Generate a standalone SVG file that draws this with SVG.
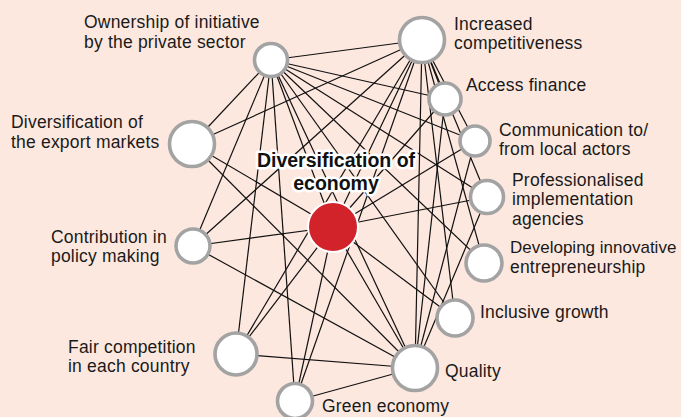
<svg xmlns="http://www.w3.org/2000/svg" width="681" height="417" viewBox="0 0 681 417">
<style>
.e line{stroke:#111;stroke-width:1.2}
.n circle{fill:#fff;stroke:#a3a3a3;stroke-width:3.6}
.t{font-family:"Liberation Sans",Arial,sans-serif;font-size:17.5px;fill:#1a1a1a;letter-spacing:0.2px}
.ct{font-family:"Liberation Sans",Arial,sans-serif;font-size:19.5px;font-weight:bold;fill:#111;stroke:#fff;stroke-width:5;stroke-linejoin:round;paint-order:stroke}
</style>
<rect width="681" height="417" fill="#fde8df"/>
<g id="connectors" class="e">
<line x1="271" y1="60" x2="422" y2="40"/>
<line x1="271" y1="60" x2="333" y2="227"/>
<line x1="271" y1="60" x2="415" y2="368"/>
<line x1="422" y1="40" x2="333" y2="227"/>
<line x1="422" y1="40" x2="415" y2="368"/>
<line x1="333" y1="227" x2="415" y2="368"/>
<line x1="192" y1="144" x2="271" y2="60"/>
<line x1="192" y1="144" x2="422" y2="40"/>
<line x1="192" y1="144" x2="333" y2="227"/>
<line x1="192" y1="144" x2="415" y2="368"/>
<line x1="193" y1="246" x2="271" y2="60"/>
<line x1="193" y1="246" x2="422" y2="40"/>
<line x1="193" y1="246" x2="333" y2="227"/>
<line x1="193" y1="246" x2="415" y2="368"/>
<line x1="236" y1="354" x2="271" y2="60"/>
<line x1="236" y1="354" x2="422" y2="40"/>
<line x1="236" y1="354" x2="333" y2="227"/>
<line x1="236" y1="354" x2="415" y2="368"/>
<line x1="295" y1="401" x2="271" y2="60"/>
<line x1="295" y1="401" x2="422" y2="40"/>
<line x1="295" y1="401" x2="333" y2="227"/>
<line x1="295" y1="401" x2="415" y2="368"/>
<line x1="445" y1="99" x2="271" y2="60"/>
<line x1="445" y1="99" x2="422" y2="40"/>
<line x1="445" y1="99" x2="333" y2="227"/>
<line x1="445" y1="99" x2="415" y2="368"/>
<line x1="475" y1="141" x2="271" y2="60"/>
<line x1="475" y1="141" x2="422" y2="40"/>
<line x1="475" y1="141" x2="333" y2="227"/>
<line x1="475" y1="141" x2="415" y2="368"/>
<line x1="487" y1="197" x2="271" y2="60"/>
<line x1="487" y1="197" x2="422" y2="40"/>
<line x1="487" y1="197" x2="333" y2="227"/>
<line x1="487" y1="197" x2="415" y2="368"/>
<line x1="484" y1="263" x2="271" y2="60"/>
<line x1="484" y1="263" x2="422" y2="40"/>
<line x1="455" y1="318" x2="271" y2="60"/>
<line x1="455" y1="318" x2="422" y2="40"/>
<line x1="455" y1="318" x2="333" y2="227"/>
</g>
<g id="n-ownership" class="n"><circle cx="271" cy="60" r="16.5"/><text class="t" x="84" y="28">Ownership of initiative</text><text class="t" x="84" y="48">by the private sector</text></g>
<g id="n-competitiveness" class="n"><circle cx="422" cy="40" r="22.5"/><text class="t" x="454" y="30">Increased</text><text class="t" x="454" y="49">competitiveness</text></g>
<g id="n-finance" class="n"><circle cx="445" cy="99" r="16"/><text class="t" x="466" y="91">Access finance</text></g>
<g id="n-communication" class="n"><circle cx="475" cy="141" r="15"/><text class="t" x="499" y="136">Communication to/</text><text class="t" x="499" y="155">from local actors</text></g>
<g id="n-professionalised" class="n"><circle cx="487" cy="197" r="16.5"/><text class="t" x="512" y="186">Professionalised</text><text class="t" x="512" y="205">implementation</text><text class="t" x="512" y="225">agencies</text></g>
<g id="n-entrepreneurship" class="n"><circle cx="484" cy="263" r="18"/><text class="t" x="510" y="253" style="font-size:17px;letter-spacing:0">Developing innovative</text><text class="t" x="510" y="273">entrepreneurship</text></g>
<g id="n-inclusive" class="n"><circle cx="455" cy="318" r="18"/><text class="t" x="480" y="318">Inclusive growth</text></g>
<g id="n-quality" class="n"><circle cx="415" cy="368" r="22.5"/><text class="t" x="445" y="377">Quality</text></g>
<g id="n-green" class="n"><circle cx="295" cy="401" r="17.5"/><text class="t" x="322" y="412">Green economy</text></g>
<g id="n-fair" class="n"><circle cx="236" cy="354" r="21"/><text class="t" x="68" y="353">Fair competition</text><text class="t" x="68" y="372">in each country</text></g>
<g id="n-policy" class="n"><circle cx="193" cy="246" r="17"/><text class="t" x="51" y="243">Contribution in</text><text class="t" x="51" y="262">policy making</text></g>
<g id="n-export" class="n"><circle cx="192" cy="144" r="22.5"/><text class="t" x="11" y="128">Diversification of</text><text class="t" x="11" y="148">the export markets</text></g>
<g id="n-center"><circle cx="333" cy="227" r="25" fill="#d2232a" stroke="#fff" stroke-width="2"/><text class="ct" x="336" y="167" text-anchor="middle">Diversification of</text><text class="ct" x="336" y="190" text-anchor="middle">economy</text></g>
</svg>
